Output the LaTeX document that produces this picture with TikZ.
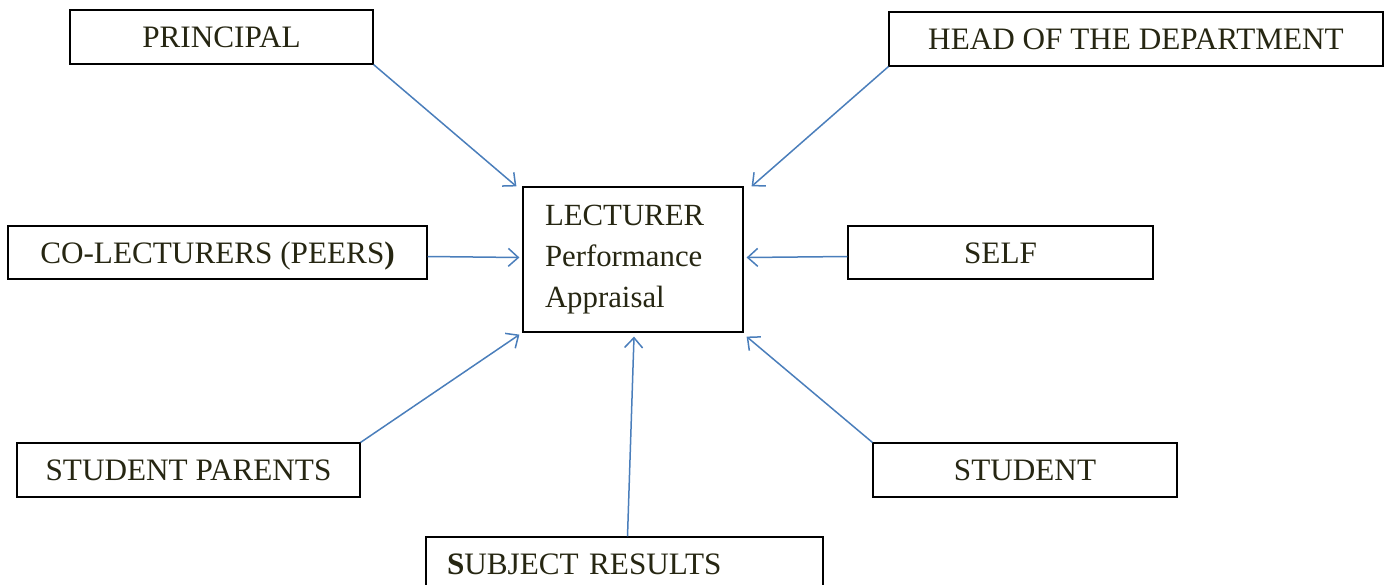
\documentclass[tikz,border=0pt]{standalone}
\usepackage{fontspec}
\setmainfont{Liberation Serif}
\usetikzlibrary{arrows.meta}
\definecolor{boxtext}{HTML}{262612}
\definecolor{linkblue}{HTML}{4A7EBB}
\tikzset{
  source/.style={draw=black, line width=0.6pt, rectangle, inner sep=0pt, minimum height=27pt, text height=10.5pt, text depth=0pt, text=boxtext, font=\fontsize{15.6}{20.5}\selectfont},
  link/.style={draw=linkblue, line width=0.75pt, -{Straight Barb[length=5pt,width=9pt]}}
}
\begin{document}
\begin{tikzpicture}[x=0.5pt, y=-0.5pt]
\useasboundingbox (0,0) rectangle (1391,584);
\node[draw=black, line width=0.6pt, rectangle, inner sep=0pt, text=boxtext, font=\fontsize{15.4}{20.5}\selectfont, minimum width=110pt, minimum height=72.5pt, inner xsep=11pt, text width=88pt, align=left] (lecturer) at (633,259.5) {LECTURER\\Performance\\Appraisal};
\node[source, minimum width=151.5pt] (principal) at (221.5,37) {PRINCIPAL};
\node[source, minimum width=247pt] (hod) at (1136,39) {HEAD OF THE DEPARTMENT};
\node[source, minimum width=209.5pt, minimum height=26.5pt] (colect) at (217.5,252.5) {CO-LECTURERS (PEERS\textbf{)}};
\node[source, minimum width=152.5pt, minimum height=26.5pt] (self) at (1000.5,252.5) {SELF};
\node[source, minimum width=171.5pt] (parents) at (188.5,470) {STUDENT PARENTS};
\node[source, minimum width=152pt] (student) at (1025,470) {STUDENT};
\node[source, minimum width=198.5pt, inner xsep=10.5pt, text width=177.5pt, align=left] (subject) at (624.5,564) {\textbf{S}UBJECT RESULTS};
\draw[link] (principal.south east) -- ([xshift=-3pt]lecturer.north west);
\draw[link] (hod.south west) -- ([xshift=4pt]lecturer.north east);
\draw[link] ([yshift=-2pt]colect.east) -- ([xshift=-1.5pt,yshift=1pt]lecturer.west);
\draw[link] ([yshift=-2pt]self.west) -- ([xshift=1.5pt,yshift=1pt]lecturer.east);
\draw[link] (parents.north east) -- ([xshift=-1.5pt,yshift=-1pt]lecturer.south west);
\draw[link] (student.north west) -- ([xshift=1.5pt,yshift=-2pt]lecturer.south east);
\draw[link] ([xshift=1.5pt]subject.north) -- ([xshift=0.5pt,yshift=-2pt]lecturer.south);
\end{tikzpicture}
\end{document}
